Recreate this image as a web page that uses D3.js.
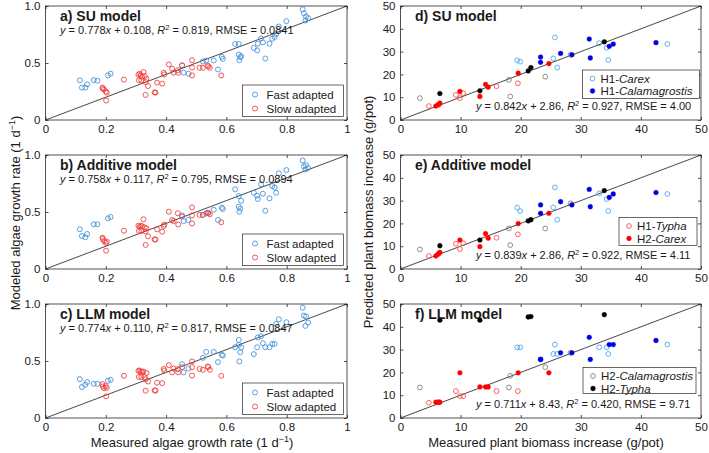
<!DOCTYPE html>
<html><head><meta charset="utf-8">
<script src="https://cdn.jsdelivr.net/npm/d3@7"></script>
<style>
body{margin:0;background:#fff}
svg{display:block}
text{font-family:"Liberation Sans",Arial,Helvetica,sans-serif;fill:#1a1a1a}
</style>
</head><body>
<svg id="c" width="709" height="453"></svg>
<script>
// ---------------- DATA ----------------
// Left: algae growth rate (measured x, modeled y for SU, Additive, LLM)
const fastX   = [0.114,0.121,0.132,0.138,0.160,0.172,0.207,0.216,0.453,0.458,0.474,0.522,0.533,0.558,0.572,0.585,0.588,0.629,0.641,0.641,0.646,0.643,0.649,0.691,0.702,0.704,0.715,0.721,0.729,0.743,0.752,0.760,0.765,0.774,0.799,0.853,0.857,0.862,0.871,0.864];
const fastSU  = [0.348,0.284,0.284,0.313,0.350,0.345,0.391,0.406,0.478,0.415,0.406,0.513,0.522,0.522,0.443,0.554,0.536,0.667,0.667,0.574,0.551,0.524,0.560,0.632,0.611,0.670,0.716,0.681,0.539,0.670,0.713,0.728,0.754,0.820,0.867,0.971,0.936,0.873,0.893,0.907];
const fastAdd = [0.348,0.289,0.278,0.307,0.392,0.392,0.444,0.456,0.470,0.420,0.430,0.474,0.489,0.520,0.430,0.538,0.526,0.699,0.640,0.547,0.530,0.503,0.599,0.669,0.643,0.614,0.743,0.660,0.511,0.620,0.728,0.715,0.669,0.839,0.868,0.953,0.900,0.873,0.886,0.910];
const fastLLM = [0.341,0.271,0.292,0.315,0.300,0.300,0.327,0.335,0.472,0.400,0.434,0.528,0.580,0.580,0.490,0.554,0.548,0.621,0.685,0.641,0.577,0.496,0.620,0.560,0.620,0.706,0.717,0.656,0.621,0.621,0.650,0.650,0.825,0.866,0.840,0.968,0.898,0.808,0.837,0.890];

const slowX   = [0.189,0.190,0.194,0.200,0.203,0.201,0.260,0.308,0.312,0.316,0.325,0.329,0.310,0.318,0.332,0.340,0.332,0.362,0.365,0.370,0.387,0.392,0.394,0.409,0.420,0.425,0.439,0.440,0.453,0.486,0.486,0.486,0.511,0.522,0.538,0.540,0.545,0.583,0.320,0.335];
const slowSU  = [0.284,0.276,0.267,0.250,0.240,0.171,0.354,0.397,0.406,0.390,0.420,0.385,0.348,0.348,0.333,0.298,0.220,0.243,0.240,0.328,0.319,0.415,0.400,0.487,0.449,0.415,0.437,0.415,0.480,0.524,0.460,0.391,0.458,0.458,0.478,0.470,0.458,0.391,0.380,0.360];
const slowAdd = [0.275,0.263,0.246,0.230,0.240,0.161,0.336,0.380,0.370,0.380,0.436,0.365,0.333,0.333,0.330,0.287,0.211,0.260,0.258,0.348,0.327,0.377,0.390,0.503,0.430,0.420,0.489,0.390,0.460,0.541,0.470,0.400,0.474,0.474,0.494,0.490,0.480,0.410,0.375,0.355];
const slowLLM = [0.297,0.277,0.262,0.280,0.265,0.190,0.370,0.414,0.417,0.408,0.408,0.360,0.360,0.360,0.340,0.320,0.239,0.242,0.240,0.310,0.306,0.431,0.417,0.464,0.400,0.434,0.428,0.400,0.446,0.496,0.446,0.373,0.431,0.423,0.452,0.446,0.423,0.370,0.405,0.395];

// Right: plant biomass increase (measured x, predicted y for SU, Additive, LLM)
const h1CarexX   = [19.42,19.92,25.42,25.69,26.08,33.07,34.30,34.57,44.40];
const h1CarexSU  = [26.2,25.6,27.0,36.2,23.0,33.7,31.7,26.3,33.3];
const h1CarexAdd = [26.9,25.4,27.0,35.8,21.6,33.2,30.7,25.4,32.9];
const h1CarexLLM = [31.0,31.0,28.1,32.2,28.1,31.0,31.0,28.1,32.2];

const h1CalX   = [23.31,23.31,26.64,28.52,31.41,31.58,34.74,35.40,42.51];
const h1CalSU  = [25.3,27.6,29.2,28.6,35.5,27.2,32.3,33.3,33.9];
const h1CalAdd = [24.4,28.1,29.5,28.1,34.9,27.3,31.4,32.9,33.5];
const h1CalLLM = [25.7,25.7,28.6,28.6,35.4,25.7,32.2,32.2,34.0];

const h1TyphaX   = [4.72,6.38,9.21,9.88,10.43,15.98,19.53];
const h1TyphaSU  = [6.1,6.7,11.0,9.6,11.8,14.8,16.1];
const h1TyphaAdd = [5.7,6.6,11.1,8.8,11.3,13.7,15.2];
const h1TyphaLLM = [6.7,6.9,11.8,9.6,9.6,11.8,11.8];

const h2CarexX   = [5.88,6.27,6.55,9.88,13.21,14.15,14.59,19.59,24.69];
const h2CarexSU  = [6.1,6.7,7.4,12.5,10.3,15.6,14.4,20.5,24.7];
const h2CarexAdd = [5.7,6.6,7.3,12.7,9.8,15.5,13.5,19.9,24.4];
const h2CarexLLM = [6.9,6.9,6.9,19.8,13.6,13.6,13.6,19.8,19.8];

const h2CalX   = [3.22,18.04,18.26,24.08,28.30];
const h2CalSU  = [9.6,17.6,10.3,19.0,28.6];
const h2CalAdd = [8.6,17.8,10.5,17.8,28.8];
const h2CalLLM = [13.4,13.4,18.5,22.3,28.6];

const h2TyphaX   = [6.55,13.21,21.25,21.70,33.91];
const h2TyphaSU  = [11.6,12.8,21.5,23.0,34.3];
const h2TyphaAdd = [10.2,12.7,21.1,21.6,34.4];
const h2TyphaLLM = [42.9,42.9,44.3,44.5,45.3];

// Panel titles and fit statistics
const leftTitles  = ["a) SU model","b) Additive model","c) LLM model"];
const rightTitles = ["d) SU model","e) Additive model","f) LLM model"];
const leftSlope = ["0.778","0.758","0.774"], leftInt = ["0.108","0.117","0.110"], leftR2 = ["0.819","0.795","0.817"], leftRMSE = ["0.0841","0.0894","0.0847"];
const rightSlope = ["0.842","0.839","0.711"], rightInt = ["2.86","2.86","8.43"], rightR2 = ["0.927","0.922","0.420"], rightRMSE = ["4.00","4.11","9.71"];

// Ticks
const leftXTicks = [0,0.2,0.4,0.6,0.8,1];
const leftYTicks = [0,0.5,1];
const rightTicks = [0,10,20,30,40,50];

// ---------------- DRAWING ----------------
const svg = d3.select("#c");
const tops = [6,155,304], H = 114;
const LX = [45.5,347], RX = [400.5,701];
const ink = "#262626";

const leftSeries = [
  {name:"Fast adapted", x:fastX, y:[fastSU,fastAdd,fastLLM], color:"#3f8fdc", filled:false},
  {name:"Slow adapted", x:slowX, y:[slowSU,slowAdd,slowLLM], color:"#f03a3a", filled:false}
];
const rightSeries = [
  {pre:"H2-", sp:"Calamagrostis", x:h2CalX, y:[h2CalSU,h2CalAdd,h2CalLLM], color:"#7a7a7a", filled:false},
  {pre:"H1-", sp:"Typha", x:h1TyphaX, y:[h1TyphaSU,h1TyphaAdd,h1TyphaLLM], color:"#ff4545", filled:false},
  {pre:"H1-", sp:"Carex", x:h1CarexX, y:[h1CarexSU,h1CarexAdd,h1CarexLLM], color:"#46a3ea", filled:false},
  {pre:"H2-", sp:"Carex", x:h2CarexX, y:[h2CarexSU,h2CarexAdd,h2CarexLLM], color:"#ff0000", filled:true},
  {pre:"H1-", sp:"Calamagrostis", x:h1CalX, y:[h1CalSU,h1CalAdd,h1CalLLM], color:"#0000e0", filled:true},
  {pre:"H2-", sp:"Typha", x:h2TyphaX, y:[h2TyphaSU,h2TyphaAdd,h2TyphaLLM], color:"#000000", filled:true}
];
// legend membership per right panel (indices into rightSeries)
const rightLegend = [[2,4],[1,3],[0,5]];

const fmtLX = d => d===0?"0":(d===1?"1":d3.format(".1f")(d));
const fmtLY = d => d===0?"0":d3.format(".1f")(d);

function frame(g, x, y, xt, yt, fx, fy) {
  const [x0,x1] = x.range(), [y0,y1] = y.range();
  const style = sel => {
    sel.select(".domain").remove();
    sel.selectAll("line").attr("stroke",ink).attr("stroke-width",0.8);
    sel.selectAll("text").attr("font-size",11.5).attr("fill",ink)
       .attr("font-family",'"Liberation Sans",Arial,sans-serif');
  };
  g.append("g").attr("transform",`translate(0,${y0})`)
    .call(d3.axisBottom(x).tickValues(xt).tickFormat(fx).tickSizeInner(-3).tickSizeOuter(0).tickPadding(5)).call(style);
  g.append("g").attr("transform",`translate(0,${y1})`)
    .call(d3.axisTop(x).tickValues(xt).tickFormat("").tickSizeInner(-3).tickSizeOuter(0)).call(style);
  g.append("g").attr("transform",`translate(${x0},0)`)
    .call(d3.axisLeft(y).tickValues(yt).tickFormat(fy).tickSizeInner(-3).tickSizeOuter(0).tickPadding(5)).call(style);
  g.append("g").attr("transform",`translate(${x1},0)`)
    .call(d3.axisRight(y).tickValues(yt).tickFormat("").tickSizeInner(-3).tickSizeOuter(0)).call(style);
  g.append("rect").attr("x",x0).attr("y",y1).attr("width",x1-x0).attr("height",y0-y1)
    .attr("fill","none").attr("stroke",ink).attr("stroke-width",0.8);
}

function oneToOne(g, x, y, lo, hi) {
  g.append("line").attr("x1",x(lo)).attr("y1",y(lo)).attr("x2",x(hi)).attr("y2",y(hi))
    .attr("stroke","#333").attr("stroke-width",0.9);
}

function points(g, s, k, x, y, r) {
  g.append("g").selectAll("circle").data(s.x.map((v,i)=>[v,s.y[k][i]])).join("circle")
    .attr("cx",d=>x(d[0])).attr("cy",d=>y(d[1])).attr("r",r)
    .attr("fill",s.filled?s.color:"none").attr("stroke",s.color).attr("stroke-width",s.filled?0.4:0.85);
}

function equation(g, px, py, sl, ic, r2, rm) {
  const t = g.append("text").attr("x",px).attr("y",py).attr("font-size",11);
  t.append("tspan").attr("font-style","italic").text("y");
  t.append("tspan").text(` = ${sl}`);
  t.append("tspan").attr("font-style","italic").text("x");
  t.append("tspan").text(` + ${ic}, `);
  t.append("tspan").attr("font-style","italic").text("R");
  t.append("tspan").attr("font-size",7.5).attr("dy",-4.5).text("2");
  t.append("tspan").attr("dy",4.5).text(` = ${r2}, RMSE = ${rm}`);
}

function legendBox(g, bx, by, bw, bh) {
  g.append("rect").attr("x",bx).attr("y",by).attr("width",bw).attr("height",bh)
    .attr("fill","#fff").attr("stroke",ink).attr("stroke-width",0.7);
}

// Left panels
for (let k=0;k<3;k++){
  const g = svg.append("g");
  const x = d3.scaleLinear().domain([0,1]).range(LX);
  const y = d3.scaleLinear().domain([0,1]).range([tops[k]+H, tops[k]]);
  oneToOne(g,x,y,0,1);
  leftSeries.forEach(s=>points(g,s,k,x,y,2.5));
  frame(g,x,y,leftXTicks,leftYTicks,fmtLX,fmtLY);
  g.append("text").attr("x",60).attr("y",tops[k]+14.5).attr("font-size",14).attr("font-weight","bold").text(leftTitles[k]);
  equation(g,60,tops[k]+28,leftSlope[k],leftInt[k],leftR2[k],leftRMSE[k]);
  const by = tops[k]+79;
  legendBox(g,242.5,by,101,31.5);
  leftSeries.forEach((s,i)=>{
    const cy = by+9.5+i*14;
    g.append("circle").attr("cx",255).attr("cy",cy).attr("r",2.5).attr("fill","none").attr("stroke",s.color).attr("stroke-width",0.85);
    g.append("text").attr("x",266.5).attr("y",cy+4).attr("font-size",11.5).text(s.name);
  });
}

// Right panels
const rLeg = [{x:582.5,y:64,w:117,h:28.5},{x:619,y:62.5,w:78,h:28},{x:583,y:63.5,w:113,h:26}];
for (let k=0;k<3;k++){
  const g = svg.append("g");
  const x = d3.scaleLinear().domain([0,50]).range(RX);
  const y = d3.scaleLinear().domain([0,50]).range([tops[k]+H, tops[k]]);
  oneToOne(g,x,y,0,50);
  rightSeries.forEach(s=>points(g,s,k,x,y,2.4));
  frame(g,x,y,rightTicks,rightTicks,d3.format("d"),d3.format("d"));
  g.append("text").attr("x",415).attr("y",tops[k]+14.5).attr("font-size",14).attr("font-weight","bold").text(rightTitles[k]);
  equation(g,476,tops[k]+H-10,rightSlope[k],rightInt[k],rightR2[k],rightRMSE[k]);
  const L = rLeg[k], by = tops[k]+L.y;
  legendBox(g,L.x,by,L.w,L.h);
  rightLegend[k].forEach((si,i)=>{
    const s = rightSeries[si];
    const cy = by+8.5+i*12.5;
    g.append("circle").attr("cx",L.x+10).attr("cy",cy).attr("r",2.4)
      .attr("fill",s.filled?s.color:"none").attr("stroke",s.color).attr("stroke-width",s.filled?0.4:0.85);
    const t = g.append("text").attr("x",L.x+18).attr("y",cy+4).attr("font-size",11.5);
    t.append("tspan").text(s.pre);
    t.append("tspan").attr("font-style","italic").text(s.sp);
  });
}

// Axis titles
function sup(t){ t.append("tspan").attr("font-size",9).attr("dy",-5).text("\u22121"); t.append("tspan").attr("dy",5).text(")"); }
let t1 = svg.append("text").attr("x",192).attr("y",447).attr("text-anchor","middle").attr("font-size",13).text("Measured algae growth rate (1 d");
sup(t1);
svg.append("text").attr("x",546).attr("y",447).attr("text-anchor","middle").attr("font-size",13).text("Measured plant biomass increase (g/pot)");
let t2 = svg.append("text").attr("transform","translate(20,213) rotate(-90)").attr("text-anchor","middle").attr("font-size",13).text("Modeled algae growth rate (1 d");
sup(t2);
svg.append("text").attr("transform","translate(373,212) rotate(-90)").attr("text-anchor","middle").attr("font-size",13).text("Predicted plant biomass increase (g/pot)");
</script>
</body></html>
